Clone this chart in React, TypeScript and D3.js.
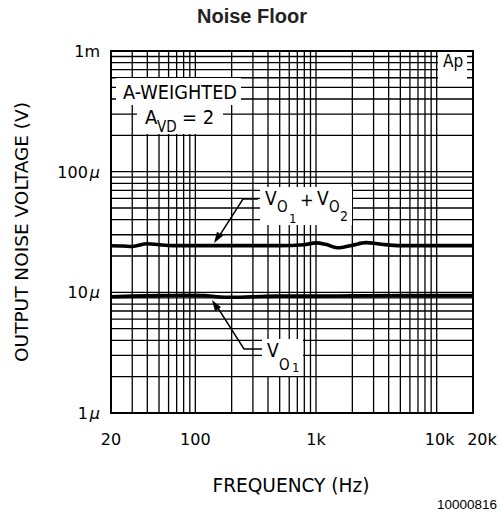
import React from 'react';
import * as d3 from 'd3';

// ---- data ----
const freqDomain: [number, number] = [20, 20000];
const voltDomain: [number, number] = [1e-6, 1e-3];
const xTickValues = [20, 100, 1000, 10000, 20000];
const xTickLabels = ['20', '100', '1k', '10k', '20k'];
const yTickValues = [1e-6, 1e-5, 1e-4, 1e-3];
const yTickNumbers = ['1', '10', '100', '1m'];
const yTickUnits = ['µ', 'µ', 'µ', ''];

// V_O1 + V_O2 (µV)
const sumFreq = [20, 25, 30, 40, 50, 65, 100, 200, 500, 800, 1000, 1200, 1500, 2000, 2600, 3500, 5000, 10000, 20000];
const sumNoise = [24.3, 24.2, 24.0, 25.3, 24.8, 24.4, 24.4, 24.4, 24.4, 24.8, 25.7, 25.0, 23.4, 24.6, 25.8, 25.0, 24.4, 24.4, 24.4];

// V_O1 (µV)
const v1Freq = [20, 30, 50, 80, 120, 150, 200, 300, 500, 1000, 2000, 5000, 10000, 20000];
const v1Noise = [9.2, 9.3, 9.4, 9.45, 9.4, 9.2, 9.1, 9.2, 9.3, 9.3, 9.35, 9.4, 9.4, 9.4];

const W = 501;
const H = 521;
const M = { left: 111, top: 51, right: 473, bottom: 413 };
const AX = '"DejaVu Sans", sans-serif';
const AXC = '"DejaVu Sans Condensed", "DejaVu Sans", sans-serif';

export default function App() {
  const x = d3.scaleLog().domain(freqDomain).range([M.left, M.right]);
  const y = d3.scaleLog().domain(voltDomain).range([M.bottom, M.top]);

  const line = d3
    .line<[number, number]>()
    .x((d) => x(d[0]))
    .y((d) => y(d[1] * 1e-6))
    .curve(d3.curveMonotoneX);

  const sumPath = line(sumFreq.map((f, i) => [f, sumNoise[i]] as [number, number])) || '';
  const v1Path = line(v1Freq.map((f, i) => [f, v1Noise[i]] as [number, number])) || '';

  const xGrid = x.ticks();
  const yGrid = y.ticks();

  const nudge = (v: number) => (v === 20000 ? 9 : v === 10000 ? 3 : 0);

  const masks = [
    { x: 116, y: 78, w: 125, h: 27 },
    { x: 137, y: 105, w: 86, h: 29 },
    { x: 438, y: 52, w: 29, h: 30 },
    { x: 260, y: 187, w: 92, h: 38 },
    { x: 262, y: 339, w: 41, h: 37 },
  ];

  const arrowHead = (tx: number, ty: number, fx: number, fy: number) => {
    const ang = Math.atan2(fy - ty, fx - tx);
    const len = 11;
    const hw = 3.6;
    const bx = tx + Math.cos(ang) * len;
    const by = ty + Math.sin(ang) * len;
    const px = -Math.sin(ang) * hw;
    const py = Math.cos(ang) * hw;
    return `M${tx},${ty}L${bx + px},${by + py}L${bx - px},${by - py}Z`;
  };

  return (
    <svg
      width={W}
      height={H}
      style={{ position: 'absolute', left: 0, top: 0, background: '#fff' }}
    >
      <rect x={0} y={0} width={W} height={H} fill="#fff" />
      <text
        x={252}
        y={23}
        textAnchor="middle"
        fontFamily='"Liberation Sans", Arial, sans-serif'
        fontWeight="bold"
        fontSize={20}
        fill="#222"
      >
        Noise Floor
      </text>

      {/* grid */}
      <g stroke="#000" strokeWidth={1.3}>
        {xGrid.map((v) => (
          <line key={'x' + v} x1={x(v)} x2={x(v)} y1={M.top} y2={M.bottom} />
        ))}
        {yGrid.map((v) => (
          <line key={'y' + v} x1={M.left} x2={M.right} y1={y(v)} y2={y(v)} />
        ))}
      </g>

      {/* label masks */}
      {masks.map((m, i) => (
        <rect key={i} x={m.x} y={m.y} width={m.w} height={m.h} fill="#fff" />
      ))}

      <rect
        x={M.left}
        y={M.top}
        width={M.right - M.left}
        height={M.bottom - M.top}
        fill="none"
        stroke="#000"
        strokeWidth={2}
      />

      {/* curves */}
      <path d={sumPath} fill="none" stroke="#000" strokeWidth={3.6} strokeLinejoin="round" />
      <path d={v1Path} fill="none" stroke="#000" strokeWidth={3.6} strokeLinejoin="round" />

      {/* y tick labels */}
      {yTickValues.map((v, i) => (
        <text
          key={'yl' + i}
          x={100}
          y={y(v) + 6}
          textAnchor="end"
          fontFamily={AX}
          fontSize={16}
          fill="#000"
        >
          {yTickNumbers[i]}
          {yTickUnits[i] && (
            <tspan fontStyle="italic" dx={2}>
              {yTickUnits[i]}
            </tspan>
          )}
        </text>
      ))}

      {/* x tick labels */}
      {xTickValues.map((v, i) => (
        <text
          key={'xl' + i}
          x={x(v) + nudge(v)}
          y={445}
          textAnchor="middle"
          fontFamily={AX}
          fontSize={16}
          fill="#000"
        >
          {xTickLabels[i]}
        </text>
      ))}

      {/* axis titles */}
      <text
        x={291}
        y={492}
        textAnchor="middle"
        fontFamily={AXC}
        fontSize={19}
        textLength={157}
        lengthAdjust="spacingAndGlyphs"
        fill="#000"
      >
        FREQUENCY (Hz)
      </text>
      <text
        transform="translate(28,232) rotate(-90)"
        textAnchor="middle"
        fontFamily={AXC}
        fontSize={18}
        textLength={260}
        lengthAdjust="spacingAndGlyphs"
        fill="#000"
      >
        OUTPUT NOISE VOLTAGE (V)
      </text>

      {/* annotations */}
      <text
        x={123}
        y={99}
        fontFamily={AXC}
        fontSize={20}
        textLength={114}
        lengthAdjust="spacingAndGlyphs"
        fill="#000"
      >
        A-WEIGHTED
      </text>
      <text x={145} y={124} fontFamily={AXC} fontSize={20} fill="#000">
        A
      </text>
      <text x={157} y={132} fontFamily={AXC} fontSize={15} fill="#000">
        VD
      </text>
      <text x={182} y={124} fontFamily={AXC} fontSize={20} fill="#000">
        = 2
      </text>

      <text x={443} y={67} fontFamily={AXC} fontSize={17} fill="#000">
        Ap
      </text>

      {/* V_O1 + V_O2 label */}
      <g fontFamily={AXC} fill="#000">
        <text x={265} y={205} fontSize={19}>V</text>
        <text x={277} y={212} fontSize={15}>O</text>
        <text x={289} y={223} fontSize={13}>1</text>
        <text x={300} y={206} fontSize={18}>+</text>
        <text x={317} y={205} fontSize={19}>V</text>
        <text x={329} y={212} fontSize={15}>O</text>
        <text x={340} y={221} fontSize={14}>2</text>
      </g>
      <path d="M258,199H243L218,238" fill="none" stroke="#000" strokeWidth={1.4} />
      <path d={arrowHead(214, 243, 243, 199)} fill="#000" />

      {/* V_O1 label */}
      <g fontFamily={AXC} fill="#000">
        <text x={267} y={357} fontSize={19}>V</text>
        <text x={279} y={370} fontSize={15}>O</text>
        <text x={292} y={372} fontSize={13}>1</text>
      </g>
      <path d="M262,349H244L216,305" fill="none" stroke="#000" strokeWidth={1.4} />
      <path d={arrowHead(212, 300, 244, 349)} fill="#000" />

      <text
        x={497}
        y={509}
        textAnchor="end"
        fontFamily='"Liberation Sans", Arial, sans-serif'
        fontSize={12}
        textLength={60}
        lengthAdjust="spacingAndGlyphs"
        fill="#000"
      >
        10000816
      </text>
    </svg>
  );
}
